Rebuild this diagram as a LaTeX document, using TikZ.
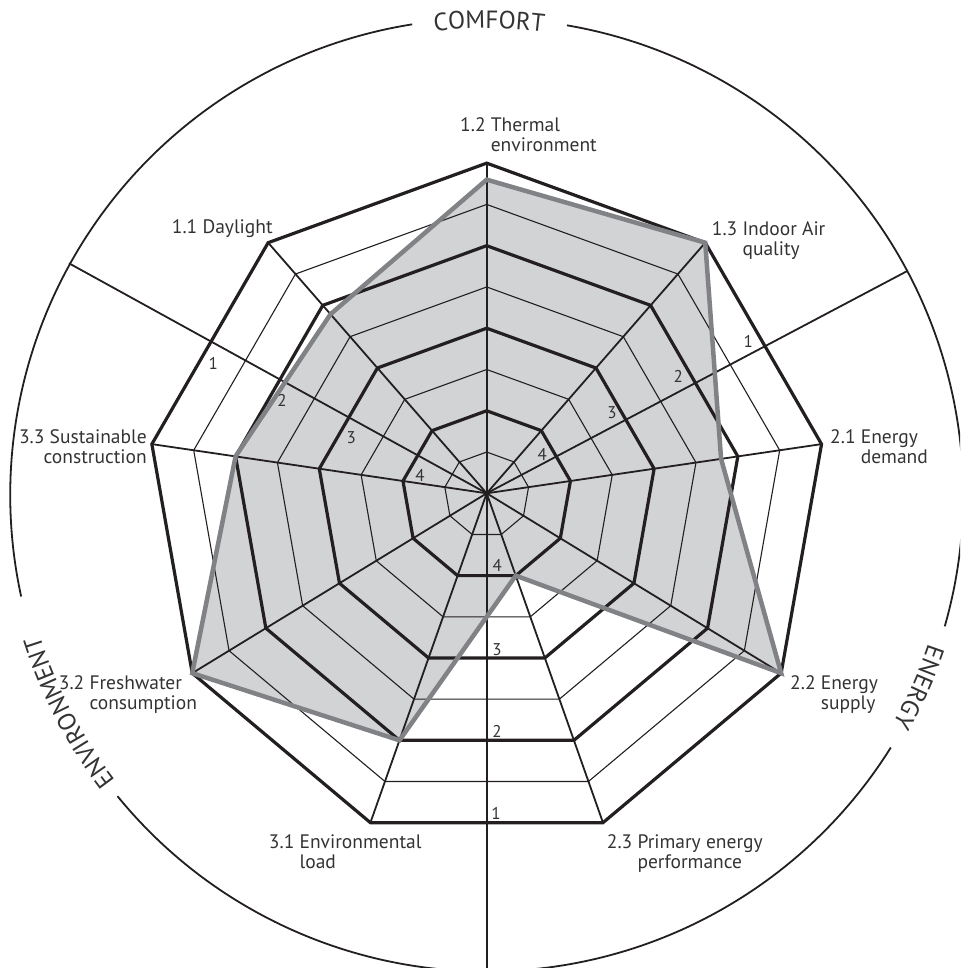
\documentclass[tikz,border=0pt]{standalone}
\usepackage{fontspec}
\setmainfont{PT Sans}
\usetikzlibrary{decorations.text}
\definecolor{ink}{HTML}{231F20}
\definecolor{txt}{HTML}{333333}
\definecolor{fillg}{HTML}{D1D3D4}
\definecolor{strokeg}{HTML}{808285}
\newcommand\secfont{\fontsize{25}{25}\selectfont\color{txt}}
\begin{document}
\begin{tikzpicture}[x=1pt,y=1pt,
  thinpoly/.style={draw=ink, line width=1.1pt, line join=miter},
  thickpoly/.style={draw=ink, line width=3.2pt, line join=miter},
  axisline/.style={draw=ink, line width=1.8pt},
  ring/.style={draw=ink, line width=1.8pt},
  datafill/.style={fill=fillg},
  dataline/.style={draw=strokeg, line width=4.5pt, line join=miter},
  lbl/.style={text=txt, font=\fontsize{19.5}{20}\selectfont, inner sep=0pt},
  scl/.style={text=txt, font=\fontsize{17}{17}\selectfont, inner sep=0pt},
  arctext/.style={decorate, decoration={text along path, text align=center, text={|\secfont|#1}}}
  ]
\useasboundingbox (-486.7,-474.7) rectangle (473.3,493.3);
\clip (-486.7,-474.7) rectangle (473.3,493.3);

\coordinate (O) at (0,0);
% data points
\coordinate (d1) at ({323*cos(90)},{323*(sin(90)-0.029)});
\coordinate (d2) at ({340*cos(50)},{340*(sin(50)-0.029)});
\coordinate (d3) at ({238*cos(10)},{238*(sin(10)-0.029)});
\coordinate (d4) at ({340*cos(-30)},{340*(sin(-30)-0.029)});
\coordinate (d5) at ({85*cos(-70)},{85*(sin(-70)-0.029)});
\coordinate (d6) at ({255*cos(-110)},{255*(sin(-110)-0.029)});
\coordinate (d7) at ({340*cos(-150)},{340*(sin(-150)-0.029)});
\coordinate (d8) at ({255*cos(170)},{255*(sin(170)-0.029)});
\coordinate (d9) at ({243*cos(130)},{243*(sin(130)-0.029)});

\fill[datafill] (d1)--(d2)--(d3)--(d4)--(d5)--(d6)--(d7)--(d8)--(d9)--cycle;

% grid
\foreach \k in {1,3,5,7}{
  \draw[thinpoly] plot[samples at={90,50,...,-230}] ({\k*42.5*cos(\x)},{\k*42.5*(sin(\x)-0.029)}) -- cycle;
}
\foreach \a in {90,50,...,-230}{
  \draw[axisline] (O) -- ({340*cos(\a)},{340*(sin(\a)-0.029)});
}
\foreach \k in {2,4,6,8}{
  \draw[thickpoly] plot[samples at={90,50,...,-230}] ({\k*42.5*cos(\x)},{\k*42.5*(sin(\x)-0.029)}) -- cycle;
}

% dividers
\coordinate (eUL) at (-417.7,230);
\coordinate (eUR) at (420.6,222.3);
\coordinate (eB) at (0,-490);
\draw[axisline] (O) -- (eUL);
\draw[axisline] (O) -- (eUR);
\draw[axisline] (O) -- (eB);

% data outline
\draw[dataline] (d1)--(d2)--(d3)--(d4)--(d5)--(d6)--(d7)--(d8)--(d9)--cycle;

% ring
\coordinate (RC) at (0,-1.7);
\draw[ring] ([shift={(99:476.5pt)}]RC) arc[start angle=99, end angle=192.3, radius=476.5pt];
\draw[ring] ([shift={(219.2:476.5pt)}]RC) arc[start angle=219.2, end angle=328, radius=476.5pt];
\draw[ring] ([shift={(-16:476.5pt)}]RC) arc[start angle=-16, end angle=80.3, radius=476.5pt];

\path[arctext=COMFORT] ([shift={(104.7:466.7pt)}]RC) arc[start angle=104.7, end angle=74.7, radius=466.7pt];
\path[arctext=ENERGY] ([shift={(-9:466pt)}]RC) arc[start angle=-9, end angle=-39, radius=466pt];
\path[arctext=ENVIRONMENT] ([shift={(237.5:468.5pt)}]RC) arc[start angle=237.5, end angle=177.5, radius=468.5pt];

% labels
\node[lbl, anchor=base west] (l12) at (-26.7,361.6) {1.2 \begin{tabular}[t]{@{}l@{}}Thermal\\environment\end{tabular}};
\node[lbl, anchor=base west] (l13) at (225,257.3) {1.3 \begin{tabular}[t]{@{}l@{}}Indoor Air\\quality\end{tabular}};
\node[lbl, anchor=base west] (l11) at (-315,259.3) {1.1 Daylight};
\node[lbl, anchor=base west] (l21) at (343.3,50) {2.1 \begin{tabular}[t]{@{}l@{}}Energy\\demand\end{tabular}};
\node[lbl, anchor=base east] (l33) at (-339.7,50) {\begin{tabular}[t]{@{}r@{}}3.3 Sustainable\\construction\end{tabular}};
\node[lbl, anchor=base west] (l32) at (-428,-196) {3.2 \begin{tabular}[t]{@{}l@{}}Freshwater\\consumption\end{tabular}};
\node[lbl, anchor=base west] (l22) at (303.3,-196) {2.2 \begin{tabular}[t]{@{}l@{}}Energy\\supply\end{tabular}};
\node[lbl, anchor=base east] (l31) at (-65,-355) {3.1 \begin{tabular}[t]{@{}l@{}}Environmental\\load\end{tabular}};
\node[lbl, anchor=base west] (l23) at (120,-355) {2.3 \begin{tabular}[t]{@{}l@{}}Primary energy\\performance\end{tabular}};

% scale numbers
\node[scl] (r1) at (261.6,151.6) {1};
\node[scl] (r2) at (191.6,116.6) {2};
\node[scl] (r3) at (125.3,80.3) {3};
\node[scl] (r4) at (55.6,39.3) {4};
\node[scl] (q1) at (-273.4,130) {1};
\node[scl] (q2) at (-204.7,92.9) {2};
\node[scl] (q3) at (-135.4,55.3) {3};
\node[scl] (q4) at (-66.7,17.6) {4};
\node[scl] (v4) at (10.6,-71.7) {4};
\node[scl] (v3) at (10.3,-156.7) {3};
\node[scl] (v2) at (10.3,-237.7) {2};
\node[scl] (v1) at (9.3,-320) {1};
\end{tikzpicture}
\end{document}
